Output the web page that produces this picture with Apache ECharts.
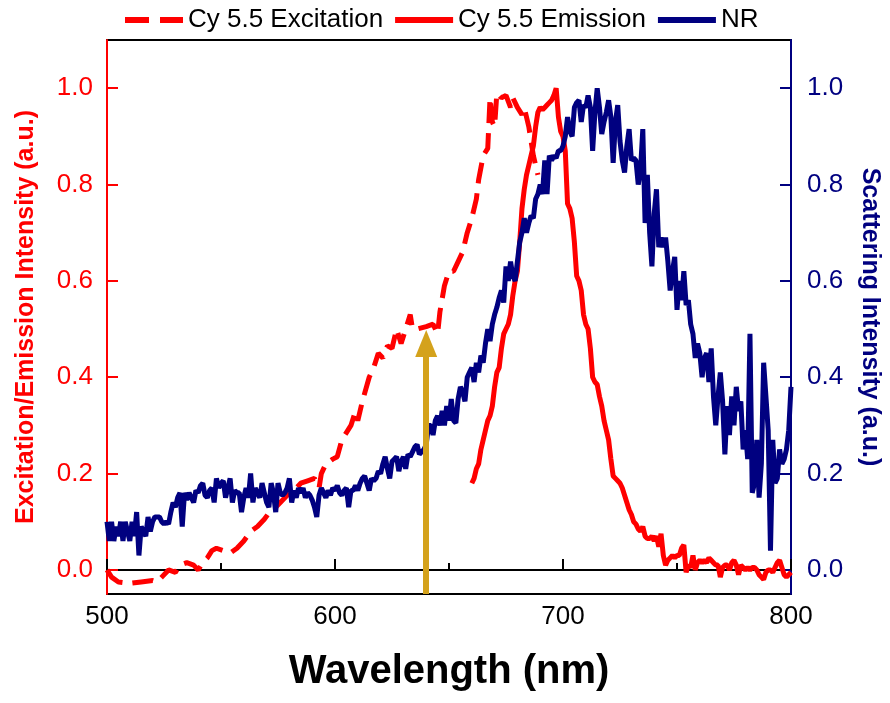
<!DOCTYPE html>
<html>
<head>
<meta charset="utf-8">
<script src="https://cdn.jsdelivr.net/npm/echarts@6/dist/echarts.min.js"></script>
<style>html,body{margin:0;padding:0;background:#fff;}#chart{width:890px;height:703px;}</style>
</head>
<body>
<div id="chart"></div>
<script>
// ---- data ----
const seriesNames = ['Cy 5.5 Excitation', 'Cy 5.5 Emission', 'NR'];
const xTicks = [500, 600, 700, 800];
const yTicks = ['0.0', '0.2', '0.4', '0.6', '0.8', '1.0'];

const excitationWavelength = [500, 502, 505, 510, 515, 520, 522, 524, 527, 530, 532, 535, 538, 540, 542, 544, 546, 548, 551, 554, 557, 560, 563, 566, 569, 571, 574, 576, 580, 583, 585, 588, 591, 593, 594, 596, 599, 601, 603, 605, 607, 609, 610, 612, 615, 617, 619, 621, 623, 625, 627, 629, 631, 633, 634, 636, 640, 643, 645, 646, 648, 650, 652, 654, 656, 658, 660, 662, 663, 665, 667, 668, 669, 670, 671, 673, 675, 677, 678, 680, 682, 683, 685, 687, 689];
const excitationIntensity = [0.0, -0.015, -0.025, -0.028, -0.025, -0.022, -0.025, -0.015, 0.0, -0.005, 0.01, 0.015, 0.01, 0.0, 0.015, 0.025, 0.04, 0.045, 0.04, 0.035, 0.045, 0.06, 0.08, 0.09, 0.105, 0.118, 0.13, 0.14, 0.16, 0.17, 0.18, 0.185, 0.19, 0.17, 0.2, 0.22, 0.23, 0.235, 0.27, 0.285, 0.3, 0.33, 0.31, 0.35, 0.4, 0.42, 0.45, 0.44, 0.465, 0.46, 0.5, 0.47, 0.5, 0.53, 0.5, 0.5, 0.505, 0.51, 0.49, 0.535, 0.59, 0.62, 0.62, 0.64, 0.66, 0.7, 0.73, 0.77, 0.81, 0.86, 0.875, 0.98, 0.93, 0.92, 0.99, 0.98, 0.985, 0.96, 0.98, 0.96, 0.945, 0.96, 0.92, 0.86, 0.82];

const emissionStart = 660; // 1 nm grid
const emissionIntensity = [
  0.18, 0.19, 0.21, 0.22, 0.25, 0.27, 0.29, 0.31, 0.32, 0.34,
  0.38, 0.41, 0.42, 0.46, 0.49, 0.50, 0.51, 0.53, 0.57, 0.60,
  0.62, 0.68, 0.75, 0.79, 0.82, 0.84, 0.86, 0.88, 0.92, 0.95,
  0.96, 0.955, 0.96, 0.965, 0.97, 0.975, 0.985, 1.0, 0.94, 0.91,
  0.90, 0.87, 0.76, 0.75, 0.73, 0.68, 0.61, 0.60, 0.58, 0.53,
  0.51, 0.50, 0.46, 0.40, 0.39, 0.385, 0.36, 0.34, 0.31, 0.29,
  0.27, 0.23, 0.195, 0.19, 0.185, 0.18, 0.17, 0.155, 0.14, 0.125,
  0.115, 0.10, 0.095, 0.085, 0.08, 0.09, 0.07, 0.065, 0.065, 0.07,
  0.06, 0.07, 0.048, 0.075, 0.03, 0.01, 0.02, 0.025, 0.03, 0.025,
  0.03, 0.03, 0.045, 0.052, -0.005, 0.01, 0.005, 0.03, 0.0, 0.015,
  0.02, 0.015, 0.02, 0.015, 0.025, 0.02, 0.015, 0.01, 0.01, -0.015,
  0.005, 0.01, 0.01, 0.0, 0.015, 0.02, 0.01, -0.01, 0.01, 0.005,
  0.0, 0.005, 0.0, 0.005, 0.005, 0.0, -0.01, -0.015, -0.02, -0.005,
  0.0, 0.0, -0.005, 0.005, 0.015, 0.02, 0.005, -0.01, -0.015, -0.01, -0.005
];

const nrStart = 500; // 1 nm grid
const nrIntensity = [
  0.10, 0.06, 0.10, 0.06, 0.09, 0.07, 0.10, 0.06, 0.10, 0.08,
  0.06, 0.10, 0.07, 0.12, 0.03, 0.09, 0.08, 0.07, 0.11, 0.08,
  0.10, 0.11, 0.11, 0.11, 0.10, 0.095, 0.10, 0.095, 0.12, 0.14,
  0.13, 0.15, 0.16, 0.09, 0.16, 0.145, 0.16, 0.15, 0.14, 0.165,
  0.16, 0.175, 0.18, 0.155, 0.15, 0.165, 0.17, 0.14, 0.19, 0.17,
  0.18, 0.185, 0.15, 0.17, 0.19, 0.14, 0.165, 0.16, 0.16, 0.12,
  0.15, 0.17, 0.15, 0.20, 0.14, 0.17, 0.16, 0.15, 0.18, 0.16,
  0.14, 0.13, 0.18, 0.16, 0.12, 0.18, 0.16, 0.155, 0.16, 0.17,
  0.19, 0.14, 0.165, 0.15, 0.17, 0.16, 0.17, 0.15, 0.16, 0.155,
  0.145, 0.13, 0.11, 0.155, 0.17, 0.16, 0.15, 0.165, 0.155, 0.17,
  0.165, 0.175, 0.16, 0.155, 0.165, 0.17, 0.13, 0.165, 0.165, 0.175,
  0.165, 0.18, 0.19, 0.195, 0.18, 0.165, 0.19, 0.185, 0.19, 0.205,
  0.20, 0.22, 0.235, 0.21, 0.19, 0.225, 0.23, 0.235, 0.205, 0.225,
  0.235, 0.21, 0.24, 0.235, 0.245, 0.255, 0.26, 0.24, 0.245, 0.25,
  0.26, 0.30, 0.30, 0.28, 0.31, 0.32, 0.30, 0.33, 0.30, 0.34,
  0.31, 0.355, 0.31, 0.305, 0.355, 0.38, 0.37, 0.35, 0.40, 0.41,
  0.42, 0.39, 0.43, 0.41, 0.445, 0.43, 0.47, 0.50, 0.475, 0.51,
  0.53, 0.545, 0.565, 0.58, 0.555, 0.63, 0.60, 0.64, 0.61, 0.60,
  0.64, 0.68, 0.70, 0.73, 0.70, 0.72, 0.735, 0.73, 0.77, 0.78,
  0.80, 0.78, 0.85, 0.78, 0.86, 0.85, 0.86, 0.855, 0.87, 0.87,
  0.88, 0.90, 0.94, 0.91, 0.90, 0.96, 0.97, 0.975, 0.93, 0.965,
  0.96, 0.985, 0.96, 0.87, 0.95, 1.0, 0.96, 0.905, 0.93, 0.95,
  0.975, 0.94, 0.845, 0.93, 0.965, 0.89, 0.85, 0.825, 0.88, 0.915,
  0.85, 0.855, 0.85, 0.80, 0.83, 0.915, 0.72, 0.82, 0.70, 0.63,
  0.74, 0.79, 0.67, 0.69, 0.67, 0.69, 0.64, 0.58, 0.62, 0.65,
  0.54, 0.60, 0.56, 0.62, 0.55, 0.56, 0.51, 0.49, 0.44, 0.47,
  0.45, 0.40, 0.44, 0.45, 0.39, 0.46, 0.36, 0.30, 0.36, 0.41,
  0.35, 0.24, 0.34, 0.28, 0.36, 0.30, 0.38, 0.33, 0.35, 0.25,
  0.29, 0.23, 0.49, 0.16, 0.18, 0.27, 0.15, 0.22, 0.43, 0.36,
  0.29, 0.04, 0.27, 0.18, 0.19, 0.25, 0.22, 0.23, 0.25, 0.29, 0.38
];

const arrowWavelength = 640;
const arrowFrom = -0.05;
const arrowTo = 0.47;

// ---- build ----
const excitationData = excitationWavelength.map((x, i) => [x, excitationIntensity[i]]);
const emissionData = emissionIntensity.map((v, i) => [emissionStart + i, v]);
const nrData = nrIntensity.map((v, i) => [nrStart + i, v]);

const FONT = "'Liberation Sans', Arial, sans-serif";
const RED = '#FF0000';
const NAVY = '#000080';
const GOLD = '#D4A21C';
const DASH = [21, 10];

const yFmt = v => { const s = v.toFixed(1); return yTicks.includes(s) && Math.abs(v * 10 - Math.round(v * 10)) < 1e-6 ? s : ''; };

const chart = echarts.init(document.getElementById('chart'), null, {renderer: 'canvas'});
chart.setOption({
  animation: false,
  backgroundColor: '#fff',
  textStyle: {fontFamily: FONT},
  grid: {left: 107, right: 98, top: 40, bottom: 109, show: true, borderColor: '#000', borderWidth: 2, backgroundColor: 'transparent'},
  legend: {
    data: [
      {name: seriesNames[0], lineStyle: {color: RED, width: 6, type: [24, 11]}},
      {name: seriesNames[1], lineStyle: {color: RED, width: 6, type: 'solid'}},
      {name: seriesNames[2], lineStyle: {color: NAVY, width: 6, type: 'solid'}}
    ],
    left: 117, top: 2,
    itemWidth: 58, itemHeight: 14, itemGap: 9,
    itemStyle: {color: 'rgba(0,0,0,0)', borderWidth: 0, opacity: 0},
    textStyle: {fontSize: 26, color: '#000', fontFamily: FONT}
  },
  xAxis: {
    type: 'value', min: xTicks[0], max: xTicks[xTicks.length - 1], interval: 100,
    name: 'Wavelength (nm)', nameLocation: 'middle', nameGap: 58,
    nameTextStyle: {fontSize: 40, fontWeight: 'bold', color: '#000', fontFamily: FONT},
    axisLine: {lineStyle: {color: '#000', width: 2}},
    axisTick: {inside: true, length: 11, lineStyle: {color: '#000', width: 2}},
    minorTick: {show: true, splitNumber: 2, length: 7, lineStyle: {color: '#000', width: 2}},
    axisLabel: {fontSize: 26, color: '#000', margin: 10, fontFamily: FONT},
    splitLine: {show: false}
  },
  yAxis: [{
    type: 'value', min: -0.05, max: 1.1, splitNumber: 5, position: 'left',
    name: 'Excitation/Emission Intensity (a.u.)', nameLocation: 'middle', nameGap: 68,
    nameTextStyle: {fontSize: 25, fontWeight: 'bold', color: RED, fontFamily: FONT},
    axisLine: {show: true, lineStyle: {color: RED, width: 2}},
    axisTick: {inside: true, length: 11, lineStyle: {color: RED, width: 2}},
    axisLabel: {fontSize: 26, color: RED, margin: 14, showMinLabel: false, showMaxLabel: false, formatter: yFmt},
    splitLine: {show: false}
  }, {
    type: 'value', min: -0.05, max: 1.1, splitNumber: 5, position: 'right',
    name: 'Scattering Intensity (a.u.)', nameLocation: 'middle', nameGap: 66, nameRotate: -90,
    nameTextStyle: {fontSize: 25, fontWeight: 'bold', color: NAVY, fontFamily: FONT},
    axisLine: {show: true, lineStyle: {color: NAVY, width: 2}},
    axisTick: {inside: true, length: 11, lineStyle: {color: NAVY, width: 2}},
    axisLabel: {fontSize: 26, color: NAVY, margin: 16, showMinLabel: false, showMaxLabel: false, formatter: yFmt},
    splitLine: {show: false}
  }],
  series: [{
    name: seriesNames[0], type: 'line', yAxisIndex: 0, data: excitationData,
    symbol: 'none', color: RED,
    lineStyle: {color: RED, width: 5, type: DASH},
    z: 2
  }, {
    name: seriesNames[1], type: 'line', yAxisIndex: 0, data: emissionData,
    symbol: 'none', color: RED,
    lineStyle: {color: RED, width: 5},
    z: 3
  }, {
    name: seriesNames[2], type: 'line', yAxisIndex: 1, data: nrData,
    symbol: 'none', color: NAVY,
    lineStyle: {color: NAVY, width: 5},
    z: 4,
    markLine: {
      silent: true, animation: false, z: 10,
      symbol: ['none', 'triangle'], symbolSize: [22, 27],
      label: {show: false},
      lineStyle: {color: GOLD, width: 6, type: 'solid'},
      itemStyle: {color: GOLD},
      data: [[{coord: [arrowWavelength, arrowFrom]}, {coord: [arrowWavelength, arrowTo]}]]
    }
  }]
});
</script>
</body>
</html>
